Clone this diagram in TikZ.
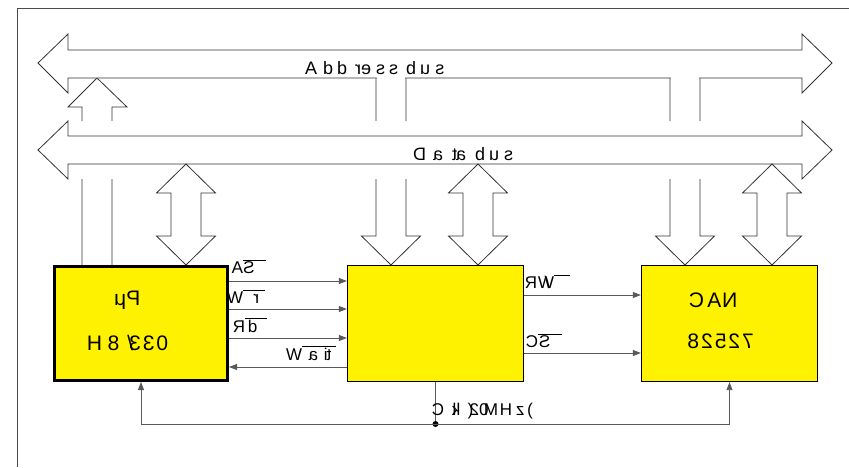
\documentclass[tikz,border=0pt]{standalone}
\usepackage{fontspec}
\setmainfont{Liberation Sans}
\usepackage{graphicx}
\usetikzlibrary{arrows.meta, positioning, calc}

% every glyph turned over about its own origin
\newdimen\mirgap \mirgap=0pt
\newcommand{\mg}[1]{\llap{\reflectbox{#1}}\phantom{#1}\kern\mirgap}
\def\mir#1{\mirnext#1\relax}
\def\mirnext#1{\ifx\relax#1\else\mg{#1}\expandafter\mirnext\fi}
\newcommand{\sigbar}[1]{$\overline{\mbox{#1}}$}
\newcommand{\busgap}{\mirgap=4pt\relax}
\newcommand{\chipgap}{\mirgap=2pt\relax}

\begin{document}
\begin{tikzpicture}[%
  x=1pt, y=-1pt,
  every node/.style={align=center, inner sep=0pt},
  chip/.style={draw, fill=yellow, line width=1.3pt, minimum width=176pt, minimum height=116pt},
  bus/.style={draw=black!80, fill=white, line width=0.8pt, line join=miter},
  lbl/.style={font=\fontsize{17}{20}\selectfont, anchor=base west},
  buslbl/.style={lbl, font=\fontsize{18}{20}\selectfont\busgap},
  chiplbl/.style={lbl, font=\fontsize{21}{25}\selectfont\chipgap},
  sig/.style={draw=black!65, line width=0.9pt},
  arr/.style={sig, -{Triangle[length=8pt, width=6pt]}}
]
\useasboundingbox (0,0) rectangle (849,467);

% frame
\draw[black!70, line width=0.8pt] (849,8) -- (17,8) -- (17,467);

% arrows between the buses and the chips
\draw[bus] (82,265) -- (82,107) -- (68,107) -- (97,78) -- (127,107) -- (112,107) -- (112,265);
\foreach \cx in {391,685}
  \draw[bus] (\cx-15,78) -- (\cx-15,236) -- (\cx-29.5,236) -- (\cx,265) -- (\cx+29.5,236) -- (\cx+15,236) -- (\cx+15,78);

% Address bus
\draw[bus] (38,63) -- (68,34) -- (68,50) -- (802,50) -- (802,34) -- (832,63) -- (802,93) -- (802,78) -- (68,78) -- (68,93) -- cycle;
\foreach \cx in {391,685}
  \draw[white, line width=1.2pt] (\cx-14.4,78) -- (\cx+14.4,78);
\node[buslbl] (abus) at (317,74) {\mir{Address} \mir{bus}};

% Data bus
\fill[white] (40,121) rectangle (830,179);
\draw[bus] (38,150) -- (68,121) -- (68,136) -- (802,136) -- (802,121) -- (832,150) -- (802,179) -- (802,164) -- (68,164) -- (68,179) -- cycle;
\node[buslbl] (dbus) at (426,160) {\mir{Data} \mir{bus}};

% data arrows
\foreach \cx in {186,478,772}
  \draw[bus] (\cx,164) -- ++(29.5,29) -- ++(-14.5,0) -- ++(0,43) -- ++(14.5,0) -- (\cx,265)
    -- ++(-29.5,-29) -- ++(14.5,0) -- ++(0,-43) -- ++(-14.5,0) -- cycle;

% chips
\node[chip, line width=3pt, minimum width=173pt, minimum height=114pt] (cpu) at (141,323.5) {};
\node[chip] (ctl) at (435.5,323.5) {};
\node[chip] (can) at (729.5,323.5) {};
\node[chiplbl] (cpuname) at (126,305) {\mir{μP}};
\node[chiplbl] (cpunum) at (102,350) {\mir{H8/330}};
\node[chiplbl] (canname) at (704,307) {\mir{CAN}};
\node[chiplbl] (cannum) at (699,348) {\mir{82527}};

% signals cpu <-> controller
\draw[arr] (cpu.east |- 0,281) -- (ctl.west |- 0,281);
\draw[arr] (cpu.east |- 0,309) -- (ctl.west |- 0,309);
\draw[arr] (cpu.east |- 0,338) -- (ctl.west |- 0,338);
\draw[arr] (ctl.west |- 0,367) -- (cpu.east |- 0,367);
\node[lbl] (as) at (243,273) {\sigbar{\mir{AS}}};
\node[lbl] (wr) at (243,303) {\sigbar{\mir{Wr}}};
\node[lbl] (rd) at (245,332) {\sigbar{\mir{Rd}}};
\node[lbl] (wait) at (302,360) {\sigbar{\mir{Wait}}};

% signals controller -> can
\draw[arr] (ctl.east |- 0,295) -- (can.west |- 0,295);
\draw[arr] (ctl.east |- 0,353) -- (can.west |- 0,353);
\node[lbl] (rw) at (537,288) {\mir{R/}\sigbar{\mir{W}}};
\node[lbl] (cs) at (538,347) {\sigbar{\mir{CS}}};

% clock
\coordinate (clk) at (ctl.south |- 0,424);
\draw[sig] (ctl.south) -- (clk);
\fill (clk) circle (3pt);
\draw[arr] (clk) -| (cpu.south);
\draw[arr] (clk) -| (can.south);
\node[lbl] (clock) at (444,415) {\mir{Clk} \mir{(20MHz)}};
\end{tikzpicture}
\end{document}
